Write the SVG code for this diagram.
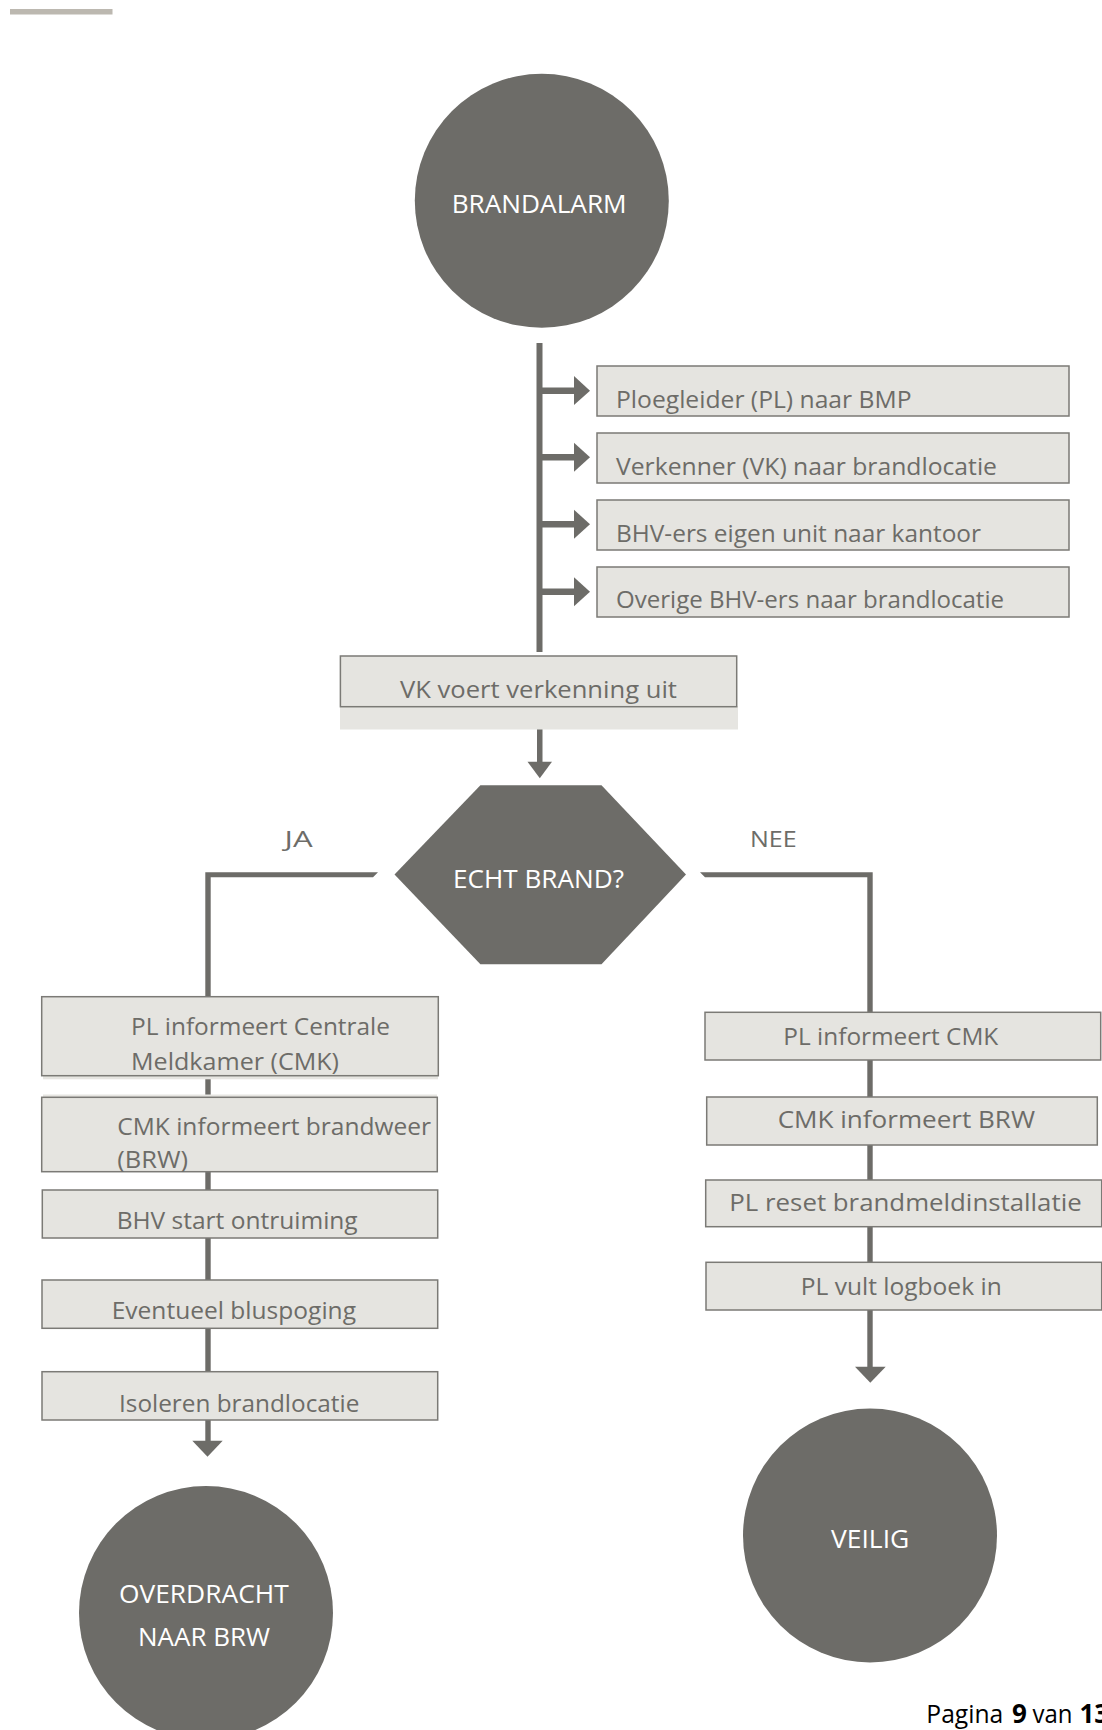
<svg xmlns="http://www.w3.org/2000/svg" width="1102" height="1730" viewBox="0 0 1102 1730">
<style>
.bg{fill:#ffffff}
.term{fill:#6d6c68}
.box{fill:#e5e4e0;stroke:#7b7a76;stroke-width:1.5}
.band{fill:#e6e5e1}
.conn{fill:#6d6c68}
.t{font-family:"Open Sans","Liberation Sans",sans-serif;font-size:24px;fill:#6d6c68}
.w{font-family:"Open Sans","Liberation Sans",sans-serif;font-size:25px;fill:#ffffff}
.lab{font-family:"Open Sans","Liberation Sans",sans-serif;font-size:21px;fill:#6d6c68}
.pg{font-family:"Open Sans","Liberation Sans",sans-serif;font-size:26px;fill:#000000}
</style>
<rect class="bg" x="0" y="0" width="1102" height="1730"/>
<rect x="10" y="9" width="102.5" height="5.5" fill="#bcb8b0"/>

<g id="connectors">
  <!-- main vertical line and side branches -->
  <rect class="conn" x="536.5" y="343" width="6" height="309"/>
  <rect class="conn" x="542" y="387.5" width="32" height="6.5"/>
  <polygon class="conn" points="574,376 574,405 590,390.7"/>
  <rect class="conn" x="542" y="454" width="32" height="6.5"/>
  <polygon class="conn" points="574,442.8 574,471.8 590,457.3"/>
  <rect class="conn" x="542" y="521" width="32" height="6.5"/>
  <polygon class="conn" points="574,509.8 574,538.8 590,524.3"/>
  <rect class="conn" x="542" y="588.5" width="32" height="6.5"/>
  <polygon class="conn" points="574,577.2 574,606.2 590,591.7"/>
  <!-- VK to decision -->
  <rect class="conn" x="537" y="711" width="5.5" height="51"/>
  <polygon class="conn" points="527.5,761.7 552,761.7 539.8,778.3"/>
  <!-- JA branch -->
  <path class="conn" d="M205.3,872.3 L378,872.3 L373,877.3 L210.7,877.3 L210.7,997 L205.3,997 Z"/>
  <rect class="conn" x="205.3" y="1075" width="5.4" height="23"/>
  <rect class="conn" x="205.3" y="1171" width="5.4" height="20"/>
  <rect class="conn" x="205.3" y="1237" width="5.4" height="44"/>
  <rect class="conn" x="205.3" y="1327" width="5.4" height="46"/>
  <rect class="conn" x="205.3" y="1419" width="5.4" height="22"/>
  <polygon class="conn" points="192.3,1440.7 222.7,1440.7 207.5,1456.7"/>
  <!-- NEE branch -->
  <path class="conn" d="M700,872.3 L872.7,872.3 L872.7,1013 L867.3,1013 L867.3,877.3 L705,877.3 Z"/>
  <rect class="conn" x="867.3" y="1059" width="5.4" height="39"/>
  <rect class="conn" x="867.3" y="1144" width="5.4" height="37"/>
  <rect class="conn" x="867.3" y="1226" width="5.4" height="37"/>
  <rect class="conn" x="867.3" y="1309" width="5.4" height="58"/>
  <polygon class="conn" points="855,1366.7 885.7,1366.7 870.3,1382.7"/>
</g>

<g id="brandalarm">
  <circle class="term" cx="541.8" cy="200.8" r="127"/>
  <text class="w" x="451.7" y="213.3" textLength="175" lengthAdjust="spacingAndGlyphs">BRANDALARM</text>
</g>

<g id="ploegleider">
  <rect class="box" x="597" y="366" width="472" height="50"/>
  <text class="t" x="616" y="407.7" textLength="295.5" lengthAdjust="spacingAndGlyphs">Ploegleider (PL) naar BMP</text>
</g>
<g id="verkenner">
  <rect class="box" x="597" y="433" width="472" height="50"/>
  <text class="t" x="616" y="475" textLength="381" lengthAdjust="spacingAndGlyphs">Verkenner (VK) naar brandlocatie</text>
</g>
<g id="bhv-eigen">
  <rect class="box" x="597" y="500" width="472" height="50"/>
  <text class="t" x="616" y="541.7" textLength="365" lengthAdjust="spacingAndGlyphs">BHV-ers eigen unit naar kantoor</text>
</g>
<g id="overige-bhv">
  <rect class="box" x="597" y="567" width="472" height="50"/>
  <text class="t" x="616" y="608.3" textLength="388" lengthAdjust="spacingAndGlyphs">Overige BHV-ers naar brandlocatie</text>
</g>

<g id="vk-verkenning">
  <rect class="band" x="340" y="706" width="398" height="23.5"/>
  <rect class="box" x="340.4" y="656" width="396.3" height="50.7"/>
  <text class="t" x="400" y="698" textLength="277" lengthAdjust="spacingAndGlyphs">VK voert verkenning uit</text>
</g>

<g id="echt-brand">
  <polygon class="term" points="480.4,785.3 601.5,785.3 686,874.5 601.5,964.3 480.4,964.3 394.5,874.5"/>
  <text class="w" x="453" y="888" textLength="171" lengthAdjust="spacingAndGlyphs">ECHT BRAND?</text>
</g>

<g id="label-ja">
  <text class="lab" x="284.6" y="846.7" textLength="28" lengthAdjust="spacingAndGlyphs">JA</text>
</g>
<g id="label-nee">
  <text class="lab" x="750" y="846.7" textLength="46.7" lengthAdjust="spacingAndGlyphs">NEE</text>
</g>

<g id="pl-informeert-centrale">
  <rect class="band" x="43" y="1075.7" width="395" height="3.6"/>
  <rect class="box" x="41.7" y="996.7" width="396.6" height="79"/>
  <text class="t" x="131" y="1035" textLength="259" lengthAdjust="spacingAndGlyphs">PL informeert Centrale</text>
  <text class="t" x="131" y="1070" textLength="208" lengthAdjust="spacingAndGlyphs">Meldkamer (CMK)</text>
</g>
<g id="cmk-informeert-brandweer">
  <rect class="band" x="43" y="1094.5" width="394" height="3"/>
  <rect class="box" x="41.7" y="1097.3" width="395.6" height="74.4"/>
  <text class="t" x="117.3" y="1135" textLength="313.7" lengthAdjust="spacingAndGlyphs">CMK informeert brandweer</text>
  <text class="t" x="117.3" y="1168.3" textLength="70.7" lengthAdjust="spacingAndGlyphs">(BRW)</text>
</g>
<g id="bhv-start">
  <rect class="box" x="42.3" y="1190" width="395.4" height="48"/>
  <text class="t" x="116.7" y="1229.3" textLength="241" lengthAdjust="spacingAndGlyphs">BHV start ontruiming</text>
</g>
<g id="bluspoging">
  <rect class="box" x="42" y="1280" width="395.7" height="48.3"/>
  <text class="t" x="111.7" y="1319" textLength="244.3" lengthAdjust="spacingAndGlyphs">Eventueel bluspoging</text>
</g>
<g id="isoleren">
  <rect class="box" x="42" y="1371.7" width="395.7" height="48.3"/>
  <text class="t" x="119" y="1411.7" textLength="240.3" lengthAdjust="spacingAndGlyphs">Isoleren brandlocatie</text>
</g>
<g id="overdracht">
  <circle class="term" cx="206" cy="1613" r="127"/>
  <text class="w" x="119" y="1602.7" textLength="169.7" lengthAdjust="spacingAndGlyphs">OVERDRACHT</text>
  <text class="w" x="138" y="1645.7" textLength="132" lengthAdjust="spacingAndGlyphs">NAAR BRW</text>
</g>

<g id="pl-informeert-cmk">
  <rect class="box" x="705" y="1012.3" width="395.7" height="47.7"/>
  <text class="t" x="783.3" y="1045" textLength="215" lengthAdjust="spacingAndGlyphs">PL informeert CMK</text>
</g>
<g id="cmk-informeert-brw">
  <rect class="box" x="706.7" y="1097" width="390.6" height="48"/>
  <text class="t" x="777.7" y="1128.3" textLength="257.3" lengthAdjust="spacingAndGlyphs">CMK informeert BRW</text>
</g>
<g id="pl-reset">
  <rect class="box" x="705.7" y="1180" width="396" height="46.7"/>
  <text class="t" x="729.3" y="1211" textLength="352.4" lengthAdjust="spacingAndGlyphs">PL reset brandmeldinstallatie</text>
</g>
<g id="pl-logboek">
  <rect class="box" x="706" y="1262.3" width="395.7" height="47.7"/>
  <text class="t" x="800.7" y="1295" textLength="201" lengthAdjust="spacingAndGlyphs">PL vult logboek in</text>
</g>
<g id="veilig">
  <circle class="term" cx="870" cy="1535.5" r="127"/>
  <text class="w" x="831" y="1547.7" textLength="78.3" lengthAdjust="spacingAndGlyphs">VEILIG</text>
</g>

<text class="pg" y="1722.7"><tspan x="926.3" textLength="77" lengthAdjust="spacingAndGlyphs">Pagina</tspan><tspan x="1012" font-weight="bold">9</tspan><tspan x="1032.5" textLength="40" lengthAdjust="spacingAndGlyphs">van</tspan><tspan x="1079.5" font-weight="bold">13</tspan></text>
</svg>
